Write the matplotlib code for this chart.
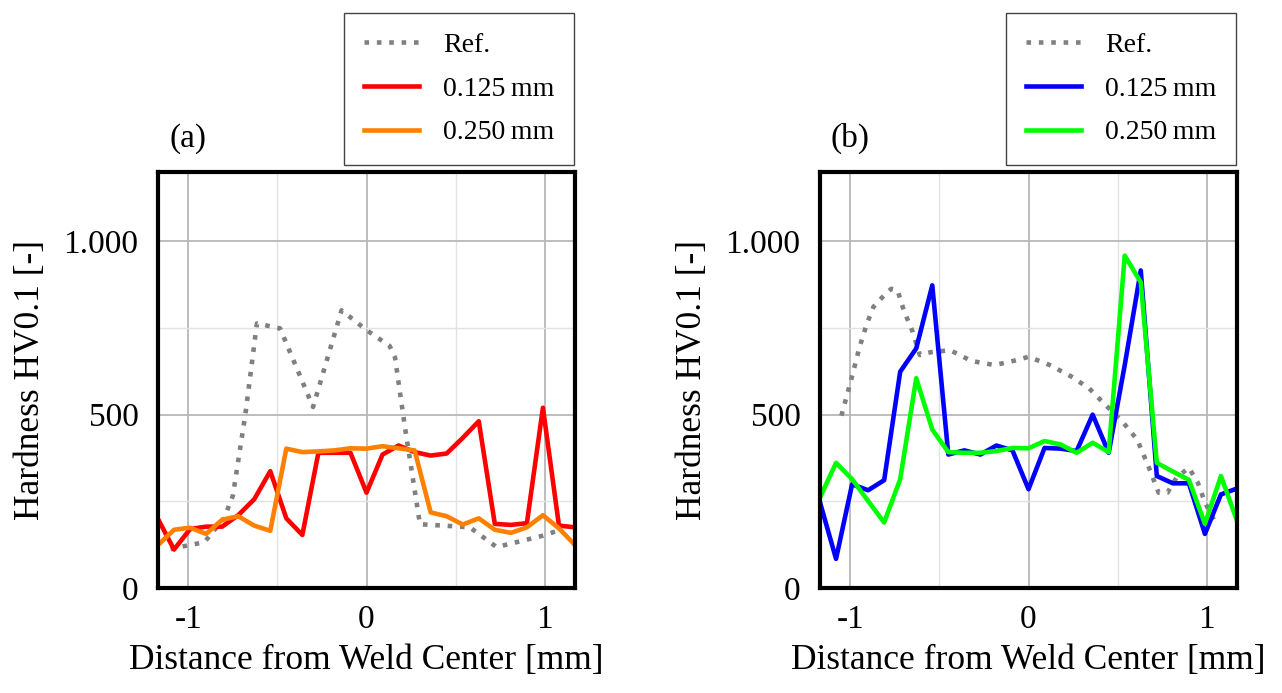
import matplotlib
matplotlib.use("Agg")
import matplotlib.pyplot as plt

plt.rcParams['font.family'] = ['Liberation Serif', 'DejaVu Serif']

# Messpositionen (mm)
pos_mm = [-1.17, -1.08, -0.99, -0.90, -0.81, -0.72, -0.63, -0.54, -0.45,
          -0.36, -0.27, -0.18, -0.09, 0.0, 0.09, 0.18, 0.27, 0.36,
          0.45, 0.54, 0.63, 0.72, 0.81, 0.90, 0.99, 1.08, 1.17]

# (a)
a_125 = [199, 111, 170, 177, 177, 210, 256, 337, 201, 153, 390, 390, 390, 275,
         385, 411, 392, 382, 388, 433, 481, 185, 182, 187, 520, 180, 175]
a_250 = [124, 168, 174, 156, 197, 207, 180, 165, 402, 392, 394, 397, 403, 402,
         409, 403, 397, 218, 207, 183, 201, 168, 159, 175, 210, 172, 124]
a_ref_x = [-1.10, -1.05, -0.91, -0.80, -0.75, -0.68, -0.615, -0.485, -0.30,
           -0.14, 0.0, 0.13, 0.16, 0.215, 0.30, 0.43, 0.58, 0.73, 0.88, 0.99, 1.10]
a_ref_y = [112, 118, 132, 200, 266, 500, 763, 749, 522,
           801, 744, 698, 665, 466, 184, 180, 175, 118, 137, 151, 170]

# (b)
b_125 = [247, 84, 299, 282, 311, 624, 691, 873, 385, 397, 385, 411, 397, 285,
         404, 402, 395, 500, 390, 643, 916, 323, 302, 302, 156, 270, 287]
b_250 = [261, 361, 314, 251, 189, 314, 605, 457, 392, 390, 390, 395, 404, 403,
         424, 414, 390, 419, 392, 959, 882, 361, 336, 312, 185, 323, 194]
b_ref_x = [-1.05, -1.00, -0.95, -0.91, -0.87, -0.80, -0.77, -0.735, -0.70,
           -0.65, -0.61, -0.55, -0.44, -0.32, -0.19, -0.06, 0.0, 0.12, 0.24,
           0.34, 0.43, 0.525, 0.61, 0.68, 0.73, 0.78, 0.83, 0.90, 0.95, 0.99, 1.05]
b_ref_y = [497, 591, 691, 758, 811, 850, 863, 859, 801,
           739, 672, 680, 686, 655, 643, 658, 667, 643, 610,
           576, 529, 481, 428, 342, 275, 275, 318, 347, 304, 247, 187]

labels = ["Ref.", "0.125\u2009mm", "0.250\u2009mm"]
ytick_vals = [0, 500, 1000]
ytick_labels = ["0", "500", "1.000"]
xtick_vals = [-1, 0, 1]
xtick_labels = ["-1", "0", "1"]

W, H = 1282, 693
fig = plt.figure(figsize=(W / 100, H / 100), dpi=100)

fs = 24
lab_fs = 25.5
lw = 3.3


def panel(left_px, tag, ref_x, ref_y, s1, s2, c1, c2):
    ax = fig.add_axes([left_px / W, 1 - 588 / H, 417 / W, 416 / H])
    l0, = ax.plot(ref_x, ref_y, color='#808080', lw=lw, linestyle=(0, (1, 1.7)),
                  dash_capstyle='butt')
    l1, = ax.plot(pos_mm, s1, color=c1, lw=lw)
    l2, = ax.plot(pos_mm, s2, color=c2, lw=lw)
    ax.set_xlim(-1.17, 1.17)
    ax.set_ylim(0, 1200)
    ax.set_xticks(xtick_vals)
    ax.set_xticklabels(xtick_labels)
    ax.set_yticks(ytick_vals)
    ax.set_yticklabels(ytick_labels)
    ax.set_xticks([-0.5, 0.5], minor=True)
    ax.set_yticks([250, 750], minor=True)
    ax.grid(which='major', color='#b8b8b8', lw=1.3)
    ax.grid(which='minor', color='#e2e2e2', lw=1.0)
    ax.set_axisbelow(True)
    ax.tick_params(which='both', length=0, labelsize=fs)
    ax.tick_params(axis='y', pad=14)
    ax.tick_params(axis='x', pad=12)
    for sp in ax.spines.values():
        sp.set_linewidth(3)
        sp.set_color('black')
    ax.set_xlabel("Distance from Weld Center [mm]", fontsize=lab_fs, labelpad=6)
    ax.set_ylabel("Hardness HV0.1 [-]", fontsize=lab_fs, labelpad=12)
    ax.text(0.072, 1.08, tag, transform=ax.transAxes, fontsize=fs,
            ha='center', va='center')
    leg = fig.legend([l0, l1, l2], labels, loc='upper right',
                     bbox_to_anchor=((left_px + 416) / W, 1 - 13 / H),
                     bbox_transform=fig.transFigure, fontsize=20,
                     frameon=True, fancybox=False, edgecolor='#444444',
                     framealpha=1, borderpad=0.7, labelspacing=0.66,
                     handlelength=2.0, handletextpad=0.86, borderaxespad=0)
    leg.get_frame().set_linewidth(1.0)
    return ax


panel(158, "(a)", a_ref_x, a_ref_y, a_125, a_250, '#ff0000', '#ff8000')
panel(820, "(b)", b_ref_x, b_ref_y, b_125, b_250, '#0000ff', '#00ff00')

fig.savefig("out.png", dpi=100)
